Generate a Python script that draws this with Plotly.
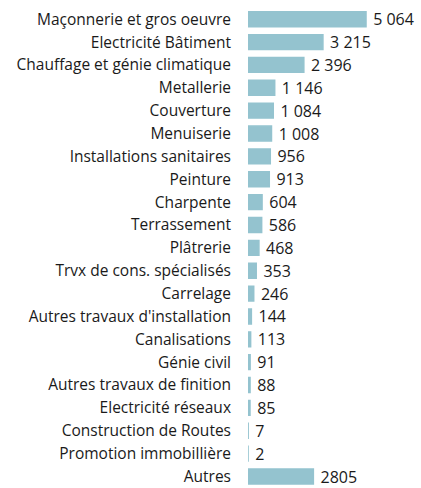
import plotly.graph_objects as go

categories = [
    "Maçonnerie et gros oeuvre",
    "Electricité Bâtiment",
    "Chauffage et génie climatique",
    "Metallerie",
    "Couverture",
    "Menuiserie",
    "Installations sanitaires",
    "Peinture",
    "Charpente",
    "Terrassement",
    "Plâtrerie",
    "Trvx de cons. spécialisés",
    "Carrelage",
    "Autres travaux d'installation",
    "Canalisations",
    "Génie civil",
    "Autres travaux de finition",
    "Electricité réseaux",
    "Construction de Routes",
    "Promotion immobillière",
    "Autres",
]
values = [5064, 3215, 2396, 1146, 1084, 1008, 956, 913, 604, 586, 468,
          353, 246, 144, 113, 91, 88, 85, 7, 2, 2805]
value_labels = ["5 064", "3 215", "2 396", "1 146", "1 084", "1 008", "956", "913",
                "604", "586", "468", "353", "246", "144", "113", "91", "88", "85",
                "7", "2", "2805"]

BAR_COLOR = "#94c3cf"
TEXT_COLOR = "#1a1a1a"

fig = go.Figure(
    go.Bar(
        x=values,
        y=categories,
        orientation="h",
        marker=dict(color=BAR_COLOR, line=dict(color=BAR_COLOR, width=1.5)),
        text=[" " + t for t in value_labels],
        textposition="outside",
        constraintext="none",
        cliponaxis=False,
        textfont=dict(size=16, color=TEXT_COLOR, family="Open Sans"),
        hoverinfo="skip",
    )
)
fig.update_xaxes(range=[0, 7424], visible=False, showgrid=False, zeroline=False)
fig.update_yaxes(
    range=[20.503, -0.49],
    showgrid=False,
    zeroline=False,
    showline=False,
    ticks="",
    ticklabelstandoff=16,
    tickfont=dict(size=15.5, color=TEXT_COLOR, family="Open Sans"),
    automargin=False,
)
fig.update_layout(
    width=421,
    height=488,
    margin=dict(l=248, r=0, t=8, b=0),
    bargap=0.35,
    plot_bgcolor="white",
    paper_bgcolor="white",
    showlegend=False,
    font=dict(family="Open Sans", color=TEXT_COLOR),
)
# drop the default body margin so the figure fills the window exactly
fig.write_html(
    "out.html",
    config={"displayModeBar": False},
    post_script="document.body.style.margin = '0'; document.body.style.overflow = 'hidden';",
)
